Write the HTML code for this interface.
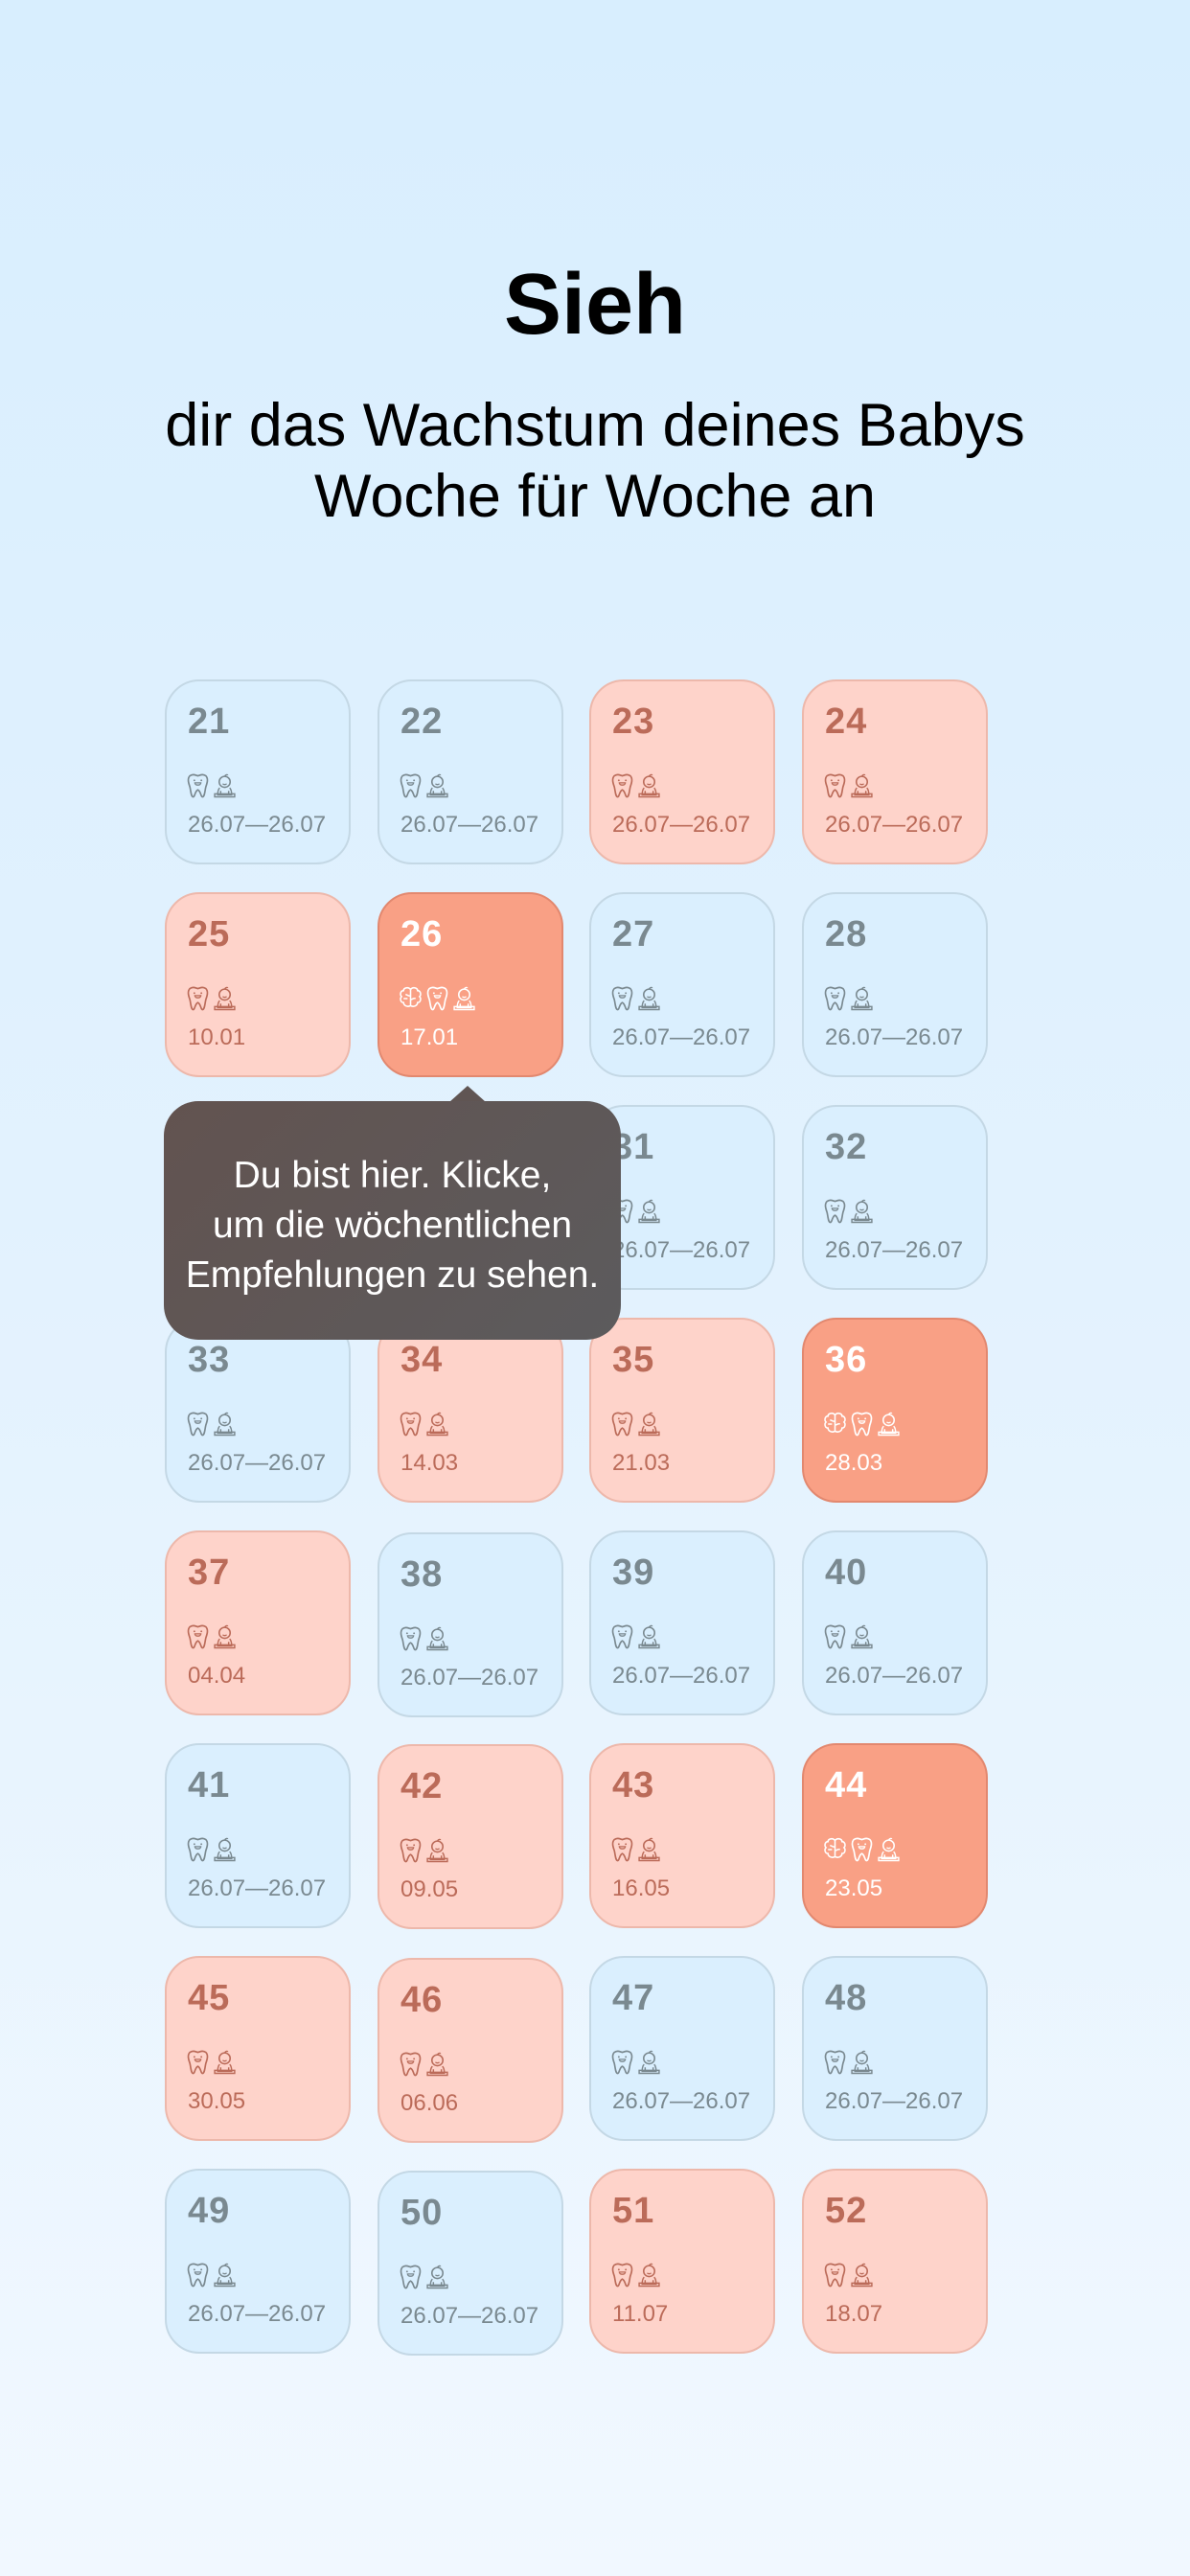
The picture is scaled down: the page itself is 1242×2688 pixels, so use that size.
<!DOCTYPE html>
<html><head><meta charset="utf-8">
<style>
*{margin:0;padding:0;box-sizing:border-box}
body{width:1242px;height:2688px;overflow:hidden;position:relative;font-family:"Liberation Sans",sans-serif;background:linear-gradient(#d8eefe 0%,#e3f2fe 50%,#f1f8ff 100%)}
.t1{position:absolute;top:268px;left:0;width:1242px;text-align:center;font-size:90px;font-weight:bold;color:#000;line-height:100px}
.t2{position:absolute;top:407px;left:0;width:1242px;text-align:center;font-size:63px;color:#000;line-height:74px}
.c{position:absolute;width:194px;height:193px;border-radius:36px;border:2px solid #c4d8e5;background:#daeffe;color:#7a8990}
.c.p{background:#fed3ca;border-color:#edb8ab;color:#bb6b59}
.c.d{background:#f9a085;border-color:#e2886f;color:#fff}
.n{position:absolute;left:22px;top:20px;font-size:38px;font-weight:bold;line-height:44px;letter-spacing:1px}
.i{position:absolute;left:20px;top:95px;height:28px;display:flex;gap:3px}
.i svg{width:25px;height:28px}
.dt{position:absolute;left:22px;top:135px;font-size:24px;line-height:30px}
.tip{position:absolute;left:171px;top:1149px;width:477px;height:249px;border-radius:36px;background:linear-gradient(135deg,#625350,#5c5b5d);color:#fff;text-align:center;font-size:39px;line-height:52px;padding-top:52px}
.arr{position:absolute;left:469px;top:1133px;width:0;height:0;border-left:19px solid transparent;border-right:19px solid transparent;border-bottom:17px solid #605553}
</style></head><body>
<svg width="0" height="0" style="position:absolute">
<defs>
<symbol id="tooth" viewBox="0 0 24 26"><path d="M4 3c3-2 5-1 8 0c3-1 5-2 8 0c3 3 1 8 0 11c-1 4-1 9-3 10c-2 1-2-6-5-7c-3 1-3 8-5 7c-2-1-2-6-3-10c-1-3-3-8 0-11z" fill="none" stroke="currentColor" stroke-width="1.6"/><path d="M9 10h6c0 3-6 3-6 0z" fill="none" stroke="currentColor" stroke-width="1.3"/><circle cx="8.5" cy="7.5" r=".9" fill="currentColor"/><circle cx="15.5" cy="7.5" r=".9" fill="currentColor"/></symbol>
<symbol id="baby" viewBox="0 0 24 26"><circle cx="12" cy="9" r="5.5" fill="none" stroke="currentColor" stroke-width="1.5"/><path d="M12 3.5c1-2 3-2 3-1" fill="none" stroke="currentColor" stroke-width="1.3"/><path d="M7 15c-2 2-2 5-2 7h14c0-2 0-5-2-7M2 24h20v-3H2zM8 18v3M16 18v3" fill="none" stroke="currentColor" stroke-width="1.4"/><path d="M10 11q2 1.5 4 0" fill="none" stroke="currentColor" stroke-width="1.2"/></symbol>
<symbol id="brain" viewBox="0 0 24 26"><path d="M12 4c-2-3-7-2-7 1c-3 0-4 4-2 6c-2 2-1 6 2 6c0 3 4 5 7 3c3 2 7 0 7-3c3 0 4-4 2-6c2-2 1-6-2-6c0-3-5-4-7-1zM12 4v16M7 9c2 0 3 2 5 1M12 14c2 0 3-2 5-1M5 13h4" fill="none" stroke="currentColor" stroke-width="1.5"/></symbol>
</defs></svg>

<div class="t1">Sieh</div>
<div class="t2">dir das Wachstum deines Babys<br>Woche für Woche an</div>

<div class="c" style="left:172px;top:709px"><div class="n">21</div><div class="i"><svg><use href="#tooth"/></svg><svg><use href="#baby"/></svg></div><div class="dt">26.07—26.07</div></div>
<div class="c" style="left:394px;top:709px"><div class="n">22</div><div class="i"><svg><use href="#tooth"/></svg><svg><use href="#baby"/></svg></div><div class="dt">26.07—26.07</div></div>
<div class="c p" style="left:615px;top:709px"><div class="n">23</div><div class="i"><svg><use href="#tooth"/></svg><svg><use href="#baby"/></svg></div><div class="dt">26.07—26.07</div></div>
<div class="c p" style="left:837px;top:709px"><div class="n">24</div><div class="i"><svg><use href="#tooth"/></svg><svg><use href="#baby"/></svg></div><div class="dt">26.07—26.07</div></div>

<div class="c p" style="left:172px;top:931px"><div class="n">25</div><div class="i"><svg><use href="#tooth"/></svg><svg><use href="#baby"/></svg></div><div class="dt">10.01</div></div>
<div class="c d" style="left:394px;top:931px"><div class="n">26</div><div class="i"><svg><use href="#brain"/></svg><svg><use href="#tooth"/></svg><svg><use href="#baby"/></svg></div><div class="dt">17.01</div></div>
<div class="c" style="left:615px;top:931px"><div class="n">27</div><div class="i"><svg><use href="#tooth"/></svg><svg><use href="#baby"/></svg></div><div class="dt">26.07—26.07</div></div>
<div class="c" style="left:837px;top:931px"><div class="n">28</div><div class="i"><svg><use href="#tooth"/></svg><svg><use href="#baby"/></svg></div><div class="dt">26.07—26.07</div></div>

<div class="c" style="left:172px;top:1153px"><div class="n">29</div><div class="i"><svg><use href="#tooth"/></svg><svg><use href="#baby"/></svg></div><div class="dt">26.07—26.07</div></div>
<div class="c p" style="left:394px;top:1153px"><div class="n">30</div><div class="i"><svg><use href="#tooth"/></svg><svg><use href="#baby"/></svg></div><div class="dt">24.01</div></div>
<div class="c" style="left:615px;top:1153px"><div class="n">31</div><div class="i"><svg><use href="#tooth"/></svg><svg><use href="#baby"/></svg></div><div class="dt">26.07—26.07</div></div>
<div class="c" style="left:837px;top:1153px"><div class="n">32</div><div class="i"><svg><use href="#tooth"/></svg><svg><use href="#baby"/></svg></div><div class="dt">26.07—26.07</div></div>

<div class="c" style="left:172px;top:1375px"><div class="n">33</div><div class="i"><svg><use href="#tooth"/></svg><svg><use href="#baby"/></svg></div><div class="dt">26.07—26.07</div></div>
<div class="c p" style="left:394px;top:1375px"><div class="n">34</div><div class="i"><svg><use href="#tooth"/></svg><svg><use href="#baby"/></svg></div><div class="dt">14.03</div></div>
<div class="c p" style="left:615px;top:1375px"><div class="n">35</div><div class="i"><svg><use href="#tooth"/></svg><svg><use href="#baby"/></svg></div><div class="dt">21.03</div></div>
<div class="c d" style="left:837px;top:1375px"><div class="n">36</div><div class="i"><svg><use href="#brain"/></svg><svg><use href="#tooth"/></svg><svg><use href="#baby"/></svg></div><div class="dt">28.03</div></div>

<div class="c p" style="left:172px;top:1597px"><div class="n">37</div><div class="i"><svg><use href="#tooth"/></svg><svg><use href="#baby"/></svg></div><div class="dt">04.04</div></div>
<div class="c" style="left:394px;top:1599px"><div class="n">38</div><div class="i"><svg><use href="#tooth"/></svg><svg><use href="#baby"/></svg></div><div class="dt">26.07—26.07</div></div>
<div class="c" style="left:615px;top:1597px"><div class="n">39</div><div class="i"><svg><use href="#tooth"/></svg><svg><use href="#baby"/></svg></div><div class="dt">26.07—26.07</div></div>
<div class="c" style="left:837px;top:1597px"><div class="n">40</div><div class="i"><svg><use href="#tooth"/></svg><svg><use href="#baby"/></svg></div><div class="dt">26.07—26.07</div></div>

<div class="c" style="left:172px;top:1819px"><div class="n">41</div><div class="i"><svg><use href="#tooth"/></svg><svg><use href="#baby"/></svg></div><div class="dt">26.07—26.07</div></div>
<div class="c p" style="left:394px;top:1820px"><div class="n">42</div><div class="i"><svg><use href="#tooth"/></svg><svg><use href="#baby"/></svg></div><div class="dt">09.05</div></div>
<div class="c p" style="left:615px;top:1819px"><div class="n">43</div><div class="i"><svg><use href="#tooth"/></svg><svg><use href="#baby"/></svg></div><div class="dt">16.05</div></div>
<div class="c d" style="left:837px;top:1819px"><div class="n">44</div><div class="i"><svg><use href="#brain"/></svg><svg><use href="#tooth"/></svg><svg><use href="#baby"/></svg></div><div class="dt">23.05</div></div>

<div class="c p" style="left:172px;top:2041px"><div class="n">45</div><div class="i"><svg><use href="#tooth"/></svg><svg><use href="#baby"/></svg></div><div class="dt">30.05</div></div>
<div class="c p" style="left:394px;top:2043px"><div class="n">46</div><div class="i"><svg><use href="#tooth"/></svg><svg><use href="#baby"/></svg></div><div class="dt">06.06</div></div>
<div class="c" style="left:615px;top:2041px"><div class="n">47</div><div class="i"><svg><use href="#tooth"/></svg><svg><use href="#baby"/></svg></div><div class="dt">26.07—26.07</div></div>
<div class="c" style="left:837px;top:2041px"><div class="n">48</div><div class="i"><svg><use href="#tooth"/></svg><svg><use href="#baby"/></svg></div><div class="dt">26.07—26.07</div></div>

<div class="c" style="left:172px;top:2263px"><div class="n">49</div><div class="i"><svg><use href="#tooth"/></svg><svg><use href="#baby"/></svg></div><div class="dt">26.07—26.07</div></div>
<div class="c" style="left:394px;top:2265px"><div class="n">50</div><div class="i"><svg><use href="#tooth"/></svg><svg><use href="#baby"/></svg></div><div class="dt">26.07—26.07</div></div>
<div class="c p" style="left:615px;top:2263px"><div class="n">51</div><div class="i"><svg><use href="#tooth"/></svg><svg><use href="#baby"/></svg></div><div class="dt">11.07</div></div>
<div class="c p" style="left:837px;top:2263px"><div class="n">52</div><div class="i"><svg><use href="#tooth"/></svg><svg><use href="#baby"/></svg></div><div class="dt">18.07</div></div>

<div class="arr"></div>
<div class="tip">Du bist hier. Klicke,<br>um die wöchentlichen<br>Empfehlungen zu sehen.</div>
</body></html>
